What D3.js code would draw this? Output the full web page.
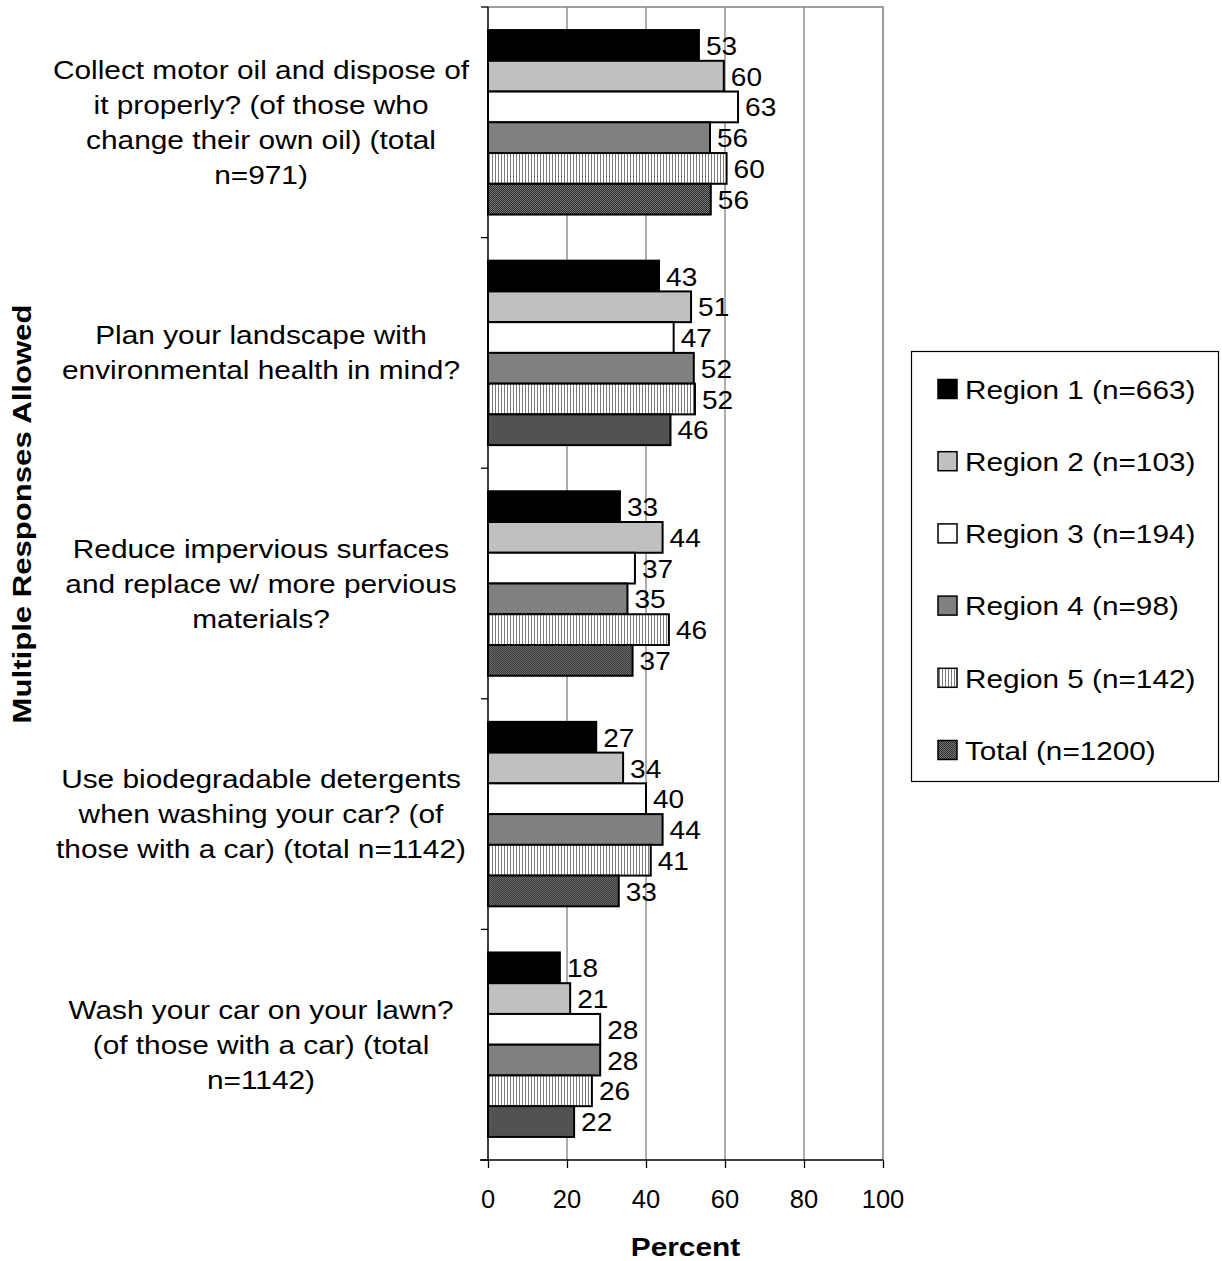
<!DOCTYPE html>
<html><head><meta charset="utf-8">
<script src="https://cdn.jsdelivr.net/npm/d3@7"></script>
<style>body{margin:0;background:#fff}svg{display:block;font-family:"Liberation Sans",Arial,sans-serif}</style>
</head><body><svg id="c" width="1222" height="1261"></svg>
<script>
const categories = [
  ["Collect motor oil and dispose of","it properly? (of those who","change their own oil) (total","n=971)"],
  ["Plan your landscape with","environmental health in mind?"],
  ["Reduce impervious surfaces","and replace w/ more pervious","materials?"],
  ["Use biodegradable detergents","when washing your car? (of","those with a car) (total n=1142)"],
  ["Wash your car on your lawn?","(of those with a car) (total","n=1142)"]
];
const seriesNames = ["Region 1 (n=663)","Region 2 (n=103)","Region 3 (n=194)","Region 4 (n=98)","Region 5 (n=142)","Total (n=1200)"];
const region1 = [53.4, 43.3, 33.4, 27.4, 18.2];
const region2 = [59.7, 51.4, 44.2, 34.2, 20.8];
const region3 = [63.3, 47.0, 37.2, 40.0, 28.4];
const region4 = [56.2, 52.1, 35.3, 44.2, 28.4];
const region5 = [60.4, 52.4, 45.8, 41.2, 26.3];
const total   = [56.4, 46.2, 36.6, 33.1, 21.8];
const xTicks = [0, 20, 40, 60, 80, 100];
const seriesValues = [region1, region2, region3, region4, region5, total];
const fills = ["#000000","#c0c0c0","#ffffff","#808080","url(#vstripe)","url(#dhatch)"];

const svg = d3.select("#c");
const defs = svg.append("defs");
const p1 = defs.append("pattern").attr("id","vstripe").attr("patternUnits","userSpaceOnUse").attr("width",3).attr("height",3);
p1.append("rect").attr("width",3).attr("height",3).attr("fill","#ffffff");
p1.append("rect").attr("width",1).attr("height",3).attr("fill","#7a7a7a");
const p2 = defs.append("pattern").attr("id","dhatch").attr("patternUnits","userSpaceOnUse").attr("width",2).attr("height",2);
p2.append("rect").attr("width",2).attr("height",2).attr("fill","#7a7a7a");
p2.append("rect").attr("width",1).attr("height",1).attr("fill","#2a2a2a");
p2.append("rect").attr("x",1).attr("y",1).attr("width",1).attr("height",1).attr("fill","#2a2a2a");

const L = 488, R = 883, T = 7, B = 1160;
const x = d3.scaleLinear().domain([0,100]).range([L,R]);
const y = d3.scaleBand().domain(d3.range(categories.length)).range([T,B]).padding(0);
const inner = d3.scaleBand().domain(d3.range(seriesNames.length)).range([0, y.bandwidth()]).paddingInner(0).paddingOuter(0.75);

function place(sel, px, py, sx, rot) {
  sel.attr("x",0).attr("y",0)
     .attr("transform", `translate(${px},${py})` + (rot ? ` rotate(${rot})` : "") + ` scale(${sx},1)`);
  return sel;
}

// gridlines
svg.append("g").selectAll("line").data(xTicks.filter(d=>d>0 && d<100)).join("line")
  .attr("x1",d=>x(d)).attr("x2",d=>x(d)).attr("y1",T).attr("y2",B)
  .attr("stroke","#808080").attr("stroke-width",1.3);
// plot border top/right
svg.append("path").attr("d",`M${L},${T}H${R}V${B}`).attr("fill","none").attr("stroke","#808080").attr("stroke-width",1.6);

// bars
const groups = svg.append("g").selectAll("g").data(categories).join("g")
  .attr("transform",(d,i)=>`translate(0,${y(i)})`);
groups.each(function(c, ci) {
  const g = d3.select(this);
  seriesValues.forEach((vals, si) => {
    const v = vals[ci];
    g.append("rect").attr("x",x(0)).attr("y",inner(si)).attr("width",x(v)-x(0)).attr("height",inner.bandwidth())
      .attr("fill",fills[si]).attr("stroke","#000").attr("stroke-width",2);
  });
  seriesValues.forEach((vals, si) => {
    const v = vals[ci];
    const t = g.append("text").text(Math.round(v)).attr("font-size",25.5).attr("fill","#000")
      .attr("dominant-baseline","central");
    place(t, x(v)+7, inner(si)+inner.bandwidth()/2+1, 1.1);
  });
});

// axes
const xAxis = svg.append("g").attr("transform",`translate(0,${B})`)
  .call(d3.axisBottom(x).tickValues(xTicks).tickSize(8).tickFormat(""));
xAxis.select(".domain").attr("stroke","#000").attr("stroke-width",1.5).attr("d",`M${L-8},0H${R}`);
xAxis.selectAll(".tick line").attr("stroke","#000").attr("stroke-width",1.3);
svg.append("g").selectAll("text").data(xTicks).join("text")
  .attr("x",d=>x(d)).attr("y",B+48).attr("text-anchor","middle").attr("font-size",25.5).text(d=>d);

const yAxis = svg.append("g").attr("transform",`translate(${L},0)`)
  .call(d3.axisLeft(y).tickSize(0).tickFormat(""));
yAxis.select(".domain").attr("stroke","#000").attr("stroke-width",1.5).attr("d",`M0,${T}V${B}`);
svg.append("g").selectAll("line").data(d3.range(categories.length+1)).join("line")
  .attr("x1",L-7).attr("x2",L).attr("y1",d=>T+d*y.bandwidth()).attr("y2",d=>T+d*y.bandwidth())
  .attr("stroke","#000").attr("stroke-width",1.3);

// category labels
categories.forEach((lines, ci) => {
  const cy = y(ci) + y.bandwidth()/2;
  const lh = 35;
  lines.forEach((ln, li) => {
    const by = cy - (lines.length-1)*lh/2 + li*lh + 9;
    const t = svg.append("text").text(ln).attr("font-size",25.5).attr("text-anchor","middle");
    place(t, 261, by, 1.17);
  });
});

// axis titles
place(svg.append("text").text("Percent").attr("font-size",25.5).attr("font-weight","bold").attr("text-anchor","middle"), (L+R)/2, 1256, 1.17);
place(svg.append("text").text("Multiple Responses Allowed").attr("font-size",25.5).attr("font-weight","bold").attr("text-anchor","middle"), 31, 514, 1.22, -90);

// legend
const lg = svg.append("g");
lg.append("rect").attr("x",911.5).attr("y",351.5).attr("width",307).attr("height",430).attr("fill","#fff").attr("stroke","#000").attr("stroke-width",1.2);
const ly = d3.scalePoint().domain(d3.range(seriesNames.length)).range([389,750]);
seriesNames.forEach((n, i) => {
  lg.append("rect").attr("x",938).attr("y",ly(i)-9.5).attr("width",19).attr("height",19)
    .attr("fill",fills[i]).attr("stroke","#000").attr("stroke-width",1.5);
  const t = lg.append("text").text(n).attr("font-size",25.5).attr("dominant-baseline","central");
  place(t, 965, ly(i)+1, 1.165);
});
</script></body></html>
